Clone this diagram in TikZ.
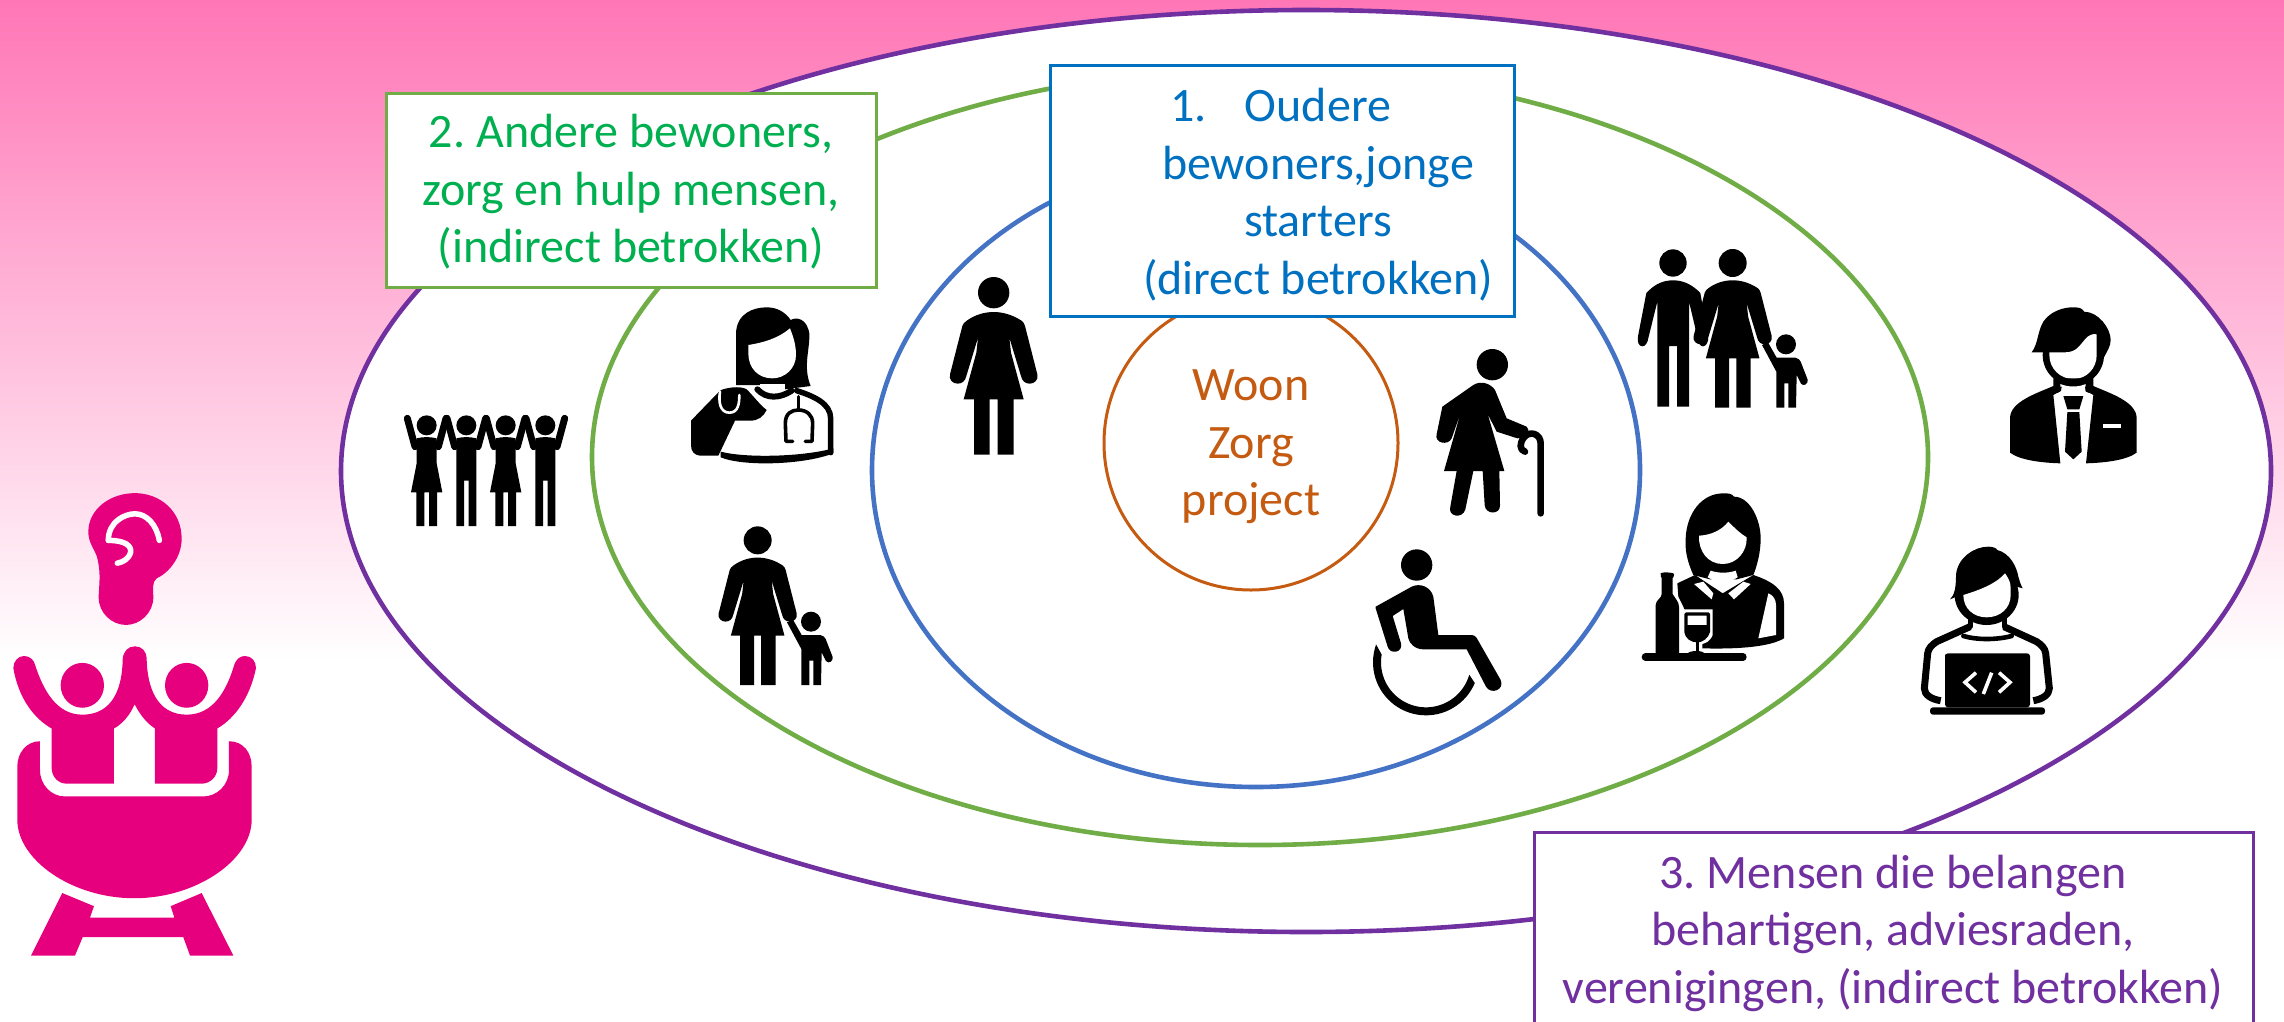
\documentclass[tikz,border=0pt]{standalone}
\usepackage{fontspec}
\setmainfont{Carlito}
\frenchspacing
\definecolor{bgpink}{HTML}{FF76B6}
\definecolor{logopink}{HTML}{E6007E}
\definecolor{cpurple}{HTML}{7030A0}
\definecolor{cgreen}{HTML}{70AD47}
\definecolor{cgreentxt}{HTML}{00B050}
\definecolor{cblue}{HTML}{4472C4}
\definecolor{cbluetxt}{HTML}{0070C0}
\definecolor{corange}{HTML}{C55A11}
\tikzset{
  ring/.style={draw=#1,line width=4.6pt,fill=white},
  labelbox/.style={draw=#1,line width=3pt,fill=white,inner sep=0pt,outer sep=0pt,anchor=north west},
  labeltext/.style={text=#1,align=center,inner sep=0pt,font=\fontsize{48}{57.5}\selectfont},
  zoomed/.style={x=0.33333pt,y=-0.33333pt},
  blk/.style={line width=#1,draw=black,line cap=round,line join=round},
  wht/.style={line width=#1,draw=white,line cap=round,line join=round},
}
% lady figure: head at local origin, units of a 3x zoom
\newcommand{\ladyfig}{%
  \fill (0,0) circle [radius=47];
  \fill (-82,85) .. controls (-55,65) and (-25,58) .. (0,58) .. controls (25,58) and (55,65) .. (85,85)
    .. controls (90,88) and (92,95) .. (94,100) -- (131,245) .. controls (135,262) and (122,273) .. (108,273)
    .. controls (95,273) and (85,265) .. (82,250) -- (47,135) -- (52,180) -- (90,320) -- (60,320) -- (60,486)
    -- (12,486) -- (12,320) -- (-12,320) -- (-12,486) -- (-59,486) -- (-59,320) -- (-90,320) -- (-52,180)
    -- (-47,135) -- (-82,250) .. controls (-85,265) and (-95,273) .. (-108,273)
    .. controls (-122,273) and (-135,262) .. (-131,245) -- (-94,100) .. controls (-92,95) and (-88,88) .. (-82,85) -- cycle;}
% child, relative to the mother's head
\newcommand{\childfig}{%
  \fill (160,244) circle [radius=30];
  \fill (132,284) -- (188,284) .. controls (198,286) and (200,290) .. (204,296) -- (225,350)
    .. controls (228,362) and (212,372) .. (205,362) -- (192,336) -- (190,434) -- (167,434) -- (167,361) -- (155,361)
    -- (155,434) -- (131,434) -- (131,326) -- (88,246) -- (106,238) -- cycle;}
\begin{document}
\begin{tikzpicture}[x=1pt,y=-1pt]
\useasboundingbox (0,0) rectangle (2284,1021);
\fill[white] (0,0) rectangle (2284,1021);
\shade[top color=bgpink,bottom color=white] (0,0) rectangle (2284,660);

% rings
\draw[ring=cpurple] (1306,471) ellipse [x radius=965,y radius=461];
\draw[ring=cgreen] (1260,457) ellipse [x radius=668,y radius=388];
\draw[ring=cblue] (1256,470) ellipse [x radius=384,y radius=317];
\draw[ring=corange,line width=3pt] (1251,443) circle [radius=147];

% labels
\node[labelbox=cgreen,minimum width=490pt,minimum height=194pt] (boxtwo) at (386,93) {};
\node[labeltext=cgreentxt] (texttwo) at (631,192) {2. Andere bewoners,\\zorg en hulp mensen,\\(indirect betrokken)};
\node[labelbox=cbluetxt,minimum width=464pt,minimum height=251pt] (boxone) at (1050,65) {};
\node[labeltext=cbluetxt] (textone) at (1318,194.5) {\llap{1.\hspace{38pt}}Oudere\\bewoners,jonge\\starters\\(direct betrokken)};
\node[labelbox=cpurple,minimum width=719pt,minimum height=240pt] (boxthree) at (1534,832) {};
\node[labeltext=cpurple] (textthree) at (1893,933) {3. Mensen die belangen\\behartigen, adviesraden,\\verenigingen, (indirect betrokken)};
\node[labeltext=corange] (textcore) at (1251,447) {Woon\\Zorg\\project};

% logo
\begin{scope}[shift={(0,480)},x=0.33333pt,y=-0.34507pt,fill=logopink]
  \fill (265,150) .. controls (265,85) and (330,38) .. (405,38) .. controls (480,38) and (545,90) .. (545,170)
    .. controls (545,225) and (505,270) .. (470,285) .. controls (455,295) and (460,320) .. (460,340)
    .. controls (460,385) and (420,420) .. (378,420) .. controls (335,420) and (296,385) .. (296,340)
    .. controls (296,310) and (305,270) .. (290,220) .. controls (280,195) and (265,180) .. (265,150) -- cycle;
  \draw[wht=5.5pt] (325,175) .. controls (325,120) and (375,98) .. (405,98) .. controls (440,98) and (470,130) .. (478,175);
  \draw[wht=5.5pt] (325,175) .. controls (375,175) and (395,190) .. (392,210) .. controls (388,225) and (372,238) .. (352,241);
  \fill (247,595) circle [radius=65];
  \fill (560,595) circle [radius=65];
  \fill (40,545) .. controls (40,525) and (55,510) .. (72,510) .. controls (90,510) and (102,522) .. (105,535)
    .. controls (130,610) and (170,680) .. (247,680) .. controls (340,680) and (367,600) .. (368,520)
    .. controls (370,495) and (385,482) .. (405,482) .. controls (425,482) and (440,495) .. (440,520)
    .. controls (442,600) and (470,680) .. (560,680) .. controls (640,680) and (680,610) .. (703,535)
    .. controls (708,520) and (720,510) .. (735,510) .. controls (755,510) and (768,525) .. (768,545)
    .. controls (750,630) and (705,690) .. (652,720) -- (652,835) .. controls (652,860) and (630,880) .. (605,880)
    -- (465,880) -- (465,720) .. controls (440,705) and (420,680) .. (404,650) .. controls (390,680) and (370,705) .. (342,720)
    -- (342,880) -- (200,880) .. controls (175,880) and (155,860) .. (155,835) -- (155,720)
    .. controls (100,690) and (55,630) .. (40,545) -- cycle;
  \fill (120,757) -- (120,840) .. controls (120,885) and (155,917) .. (195,917) -- (610,917)
    .. controls (650,917) and (687,885) .. (687,840) -- (687,757) .. controls (730,757) and (755,790) .. (755,830)
    -- (755,985) .. controls (755,1100) and (590,1212) .. (403,1212) .. controls (215,1212) and (52,1100) .. (52,985)
    -- (52,830) .. controls (52,790) and (80,757) .. (120,757) -- cycle;
  \fill (187,1197) -- (282,1235) -- (270,1268) -- (523,1268) -- (512,1235) -- (605,1197) -- (700,1378) -- (570,1378)
    -- (550,1325) -- (248,1325) -- (225,1378) -- (93,1378) -- cycle;
\end{scope}

% four people with raised arms
\begin{scope}[shift={(380,270)},zoomed]
  \foreach \cx/\kind in {140/0,259/1,377/0,496/1}{
    \begin{scope}[shift={(\cx,0)}]
      \fill (0,466) circle [radius=30];
      \draw[blk=7pt] (-58,445) -- (-35,530);
      \draw[blk=7pt] (58,445) -- (35,530);
      \ifnum\kind=0
        \fill (-30,505) .. controls (-10,500) and (10,500) .. (30,505) -- (30,580) -- (47,667) -- (31,667) -- (31,768)
          -- (7,768) -- (7,667) -- (-7,667) -- (-7,768) -- (-31,768) -- (-31,667) -- (-47,667) -- (-30,580) -- cycle;
      \else
        \fill (-30,505) .. controls (-10,500) and (10,500) .. (30,505) -- (30,768) -- (7,768) -- (7,632) -- (-7,632)
          -- (-7,768) -- (-30,768) -- cycle;
      \fi
    \end{scope}
  }
  % vet with dog
  \fill (1068,345) -- (1068,190) .. controls (1070,130) and (1120,112) .. (1160,112) .. controls (1190,112) and (1215,125) .. (1232,150)
    .. controls (1250,140) and (1280,145) .. (1288,190) .. controls (1290,240) and (1268,290) .. (1292,348) -- (1215,358) -- (1140,345) -- cycle;
  \fill[white] (1105,225) .. controls (1150,218) and (1195,205) .. (1230,175) .. controls (1240,200) and (1248,225) .. (1248,255)
    .. controls (1248,295) and (1215,325) .. (1177,325) .. controls (1135,325) and (1105,295) .. (1105,250) -- cycle;
  \fill[white] (1140,342) -- (1215,342) -- (1215,365) -- (1140,365) -- cycle;
  \draw[blk=6pt] (1132,358) .. controls (1160,388) and (1200,385) .. (1235,362);
  \draw[blk=5.5pt] (1250,362) .. controls (1300,378) and (1352,400) .. (1352,445) -- (1352,548);
  \fill (1022,545) .. controls (1100,565) and (1270,560) .. (1360,535) -- (1360,550) .. controls (1270,585) and (1090,590) .. (1022,562) -- cycle;
  \fill (933,452) -- (1020,362) .. controls (1030,355) and (1080,345) .. (1100,358) .. controls (1115,372) and (1140,405) .. (1160,420)
    .. controls (1150,440) and (1135,452) .. (1110,452) -- (1065,452) -- (1015,557) -- (960,557) .. controls (943,555) and (933,545) .. (933,525) -- cycle;
  \draw[wht=2.6pt] (1020,365) .. controls (1015,395) and (1020,428) .. (1048,428) .. controls (1075,428) and (1078,400) .. (1078,375);
  \draw[blk=3.6pt] (1255,380) -- (1255,420);
  \draw[blk=3.6pt] (1238,514) -- (1218,514) -- (1216,460) .. controls (1216,430) and (1235,420) .. (1255,420)
    .. controls (1280,420) and (1298,435) .. (1298,460) -- (1296,514) -- (1276,514);
  % mother and child
  \begin{scope}[shift={(1133,811)},x=0.2977pt,y=-0.2977pt]\ladyfig\end{scope}
  \begin{scope}[shift={(1133,811)}]\childfig\end{scope}
\end{scope}

% single woman
\begin{scope}[shift={(920,260)},zoomed]
  \begin{scope}[shift={(221,98)}]\ladyfig\end{scope}
\end{scope}

% family, old woman, wheelchair user, waitress
\begin{scope}[shift={(1340,230)},zoomed]
  \begin{scope}[shift={(999,99)}]
    \fill (0,0) circle [radius=41];
    \fill (-74,84) .. controls (-50,60) and (-25,52) .. (0,52) .. controls (25,52) and (50,60) .. (76,84)
      -- (82,90) -- (105,220) .. controls (108,238) and (98,250) .. (90,250) .. controls (80,250) and (76,238) .. (74,225)
      -- (48,116) -- (48,431) -- (12,431) -- (12,249) -- (-12,249) -- (-12,431) -- (-47,431) -- (-47,116)
      -- (-74,225) .. controls (-76,238) and (-82,250) .. (-92,250) .. controls (-102,250) and (-108,238) .. (-105,220) -- (-80,90) -- cycle;
  \end{scope}
  \begin{scope}[shift={(1178,99)},x=0.2977pt,y=-0.2977pt]\ladyfig\end{scope}
  \begin{scope}[shift={(1178,99)}]\childfig\end{scope}
  % old woman
  \fill (457,404) circle [radius=47];
  \fill (307,530) -- (400,465) .. controls (420,452) and (450,458) .. (465,480) -- (500,565) -- (560,590)
    .. controls (570,600) and (565,618) .. (550,622) -- (532,625) -- (470,605) -- (443,552) -- (493,723) -- (478,723) -- (480,825)
    .. controls (482,855) and (436,855) .. (434,825) -- (428,723) -- (400,723) -- (376,838)
    .. controls (368,868) and (322,860) .. (331,830) -- (350,723) -- (312,723) -- (362,548) -- (335,625)
    .. controls (325,648) and (282,640) .. (290,612) -- (307,530) -- cycle;
  \draw[blk=6.6pt] (602,850) -- (602,640) .. controls (602,612) and (570,600) .. (552,622) .. controls (538,640) and (538,660) .. (555,665);
  % wheelchair user
  \fill (230,1005) circle [radius=47];
  \fill (107,1130) -- (215,1070) .. controls (240,1058) and (272,1070) .. (280,1100) -- (295,1215) -- (395,1215)
    .. controls (408,1215) and (412,1228) .. (418,1238) -- (482,1350) .. controls (495,1380) and (452,1395) .. (438,1370) -- (380,1258) -- (250,1258)
    .. controls (225,1258) and (208,1240) .. (205,1225) -- (190,1137) -- (158,1158) -- (183,1240)
    .. controls (190,1268) and (150,1275) .. (143,1250) -- (107,1135) -- cycle;
  \fill plot[domain=23:199,samples=40,smooth] ({258+159*cos(\x)},{1297+159*sin(\x)}) -- (108,1243)
     -- plot[domain=190:16,samples=40,smooth] ({258+135*cos(\x)},{1297+135*sin(\x)}) -- cycle;
  % waitress
  \fill (1060,1035) .. controls (1040,990) and (1035,960) .. (1037,925) .. controls (1040,850) and (1085,790) .. (1150,790)
    .. controls (1165,790) and (1175,790) .. (1182,800) .. controls (1230,800) and (1262,870) .. (1262,925)
    .. controls (1262,970) and (1250,1010) .. (1240,1035) -- (1190,1048) -- (1110,1048) -- cycle;
  \fill[white] (1077,917) .. controls (1115,915) and (1145,900) .. (1165,875) .. controls (1185,895) and (1200,910) .. (1220,922)
    .. controls (1222,965) and (1190,1002) .. (1148,1002) .. controls (1105,1002) and (1075,965) .. (1077,917) -- cycle;
  \fill[white] (1112,1022) .. controls (1135,1030) and (1165,1030) .. (1187,1022) -- (1193,1042) -- (1148,1066) -- (1103,1042) -- cycle;
  \fill (1012,1060) -- (1065,1035) -- (1148,1090) -- (1240,1035) .. controls (1300,1055) and (1332,1080) .. (1332,1120)
    -- (1332,1225) .. controls (1290,1250) and (1200,1258) .. (1085,1255) -- (1060,1200) -- (1030,1130) -- (1015,1100) -- cycle;
  \fill[white] (1062,1062) -- (1090,1055) -- (1120,1090) -- (1115,1108) -- cycle;
  \fill[white] (1165,1090) -- (1210,1055) -- (1232,1062) -- (1182,1108) -- cycle;
  \fill[white] (1285,1090) .. controls (1300,1095) and (1308,1110) .. (1308,1125) -- (1308,1215) -- (1255,1225) -- cycle;
  \fill[white] (1023,1138) -- (1118,1138) -- (1118,1215) .. controls (1110,1235) and (1095,1240) .. (1087,1242) -- (1087,1260) -- (1045,1260) -- (1048,1240) .. controls (1035,1235) and (1025,1225) .. (1023,1205) -- cycle;
  \draw[blk=3.4pt] (1038,1152) -- (1105,1152) -- (1105,1205) .. controls (1100,1222) and (1085,1232) .. (1072,1232) .. controls (1055,1232) and (1040,1222) .. (1038,1205) -- cycle;
  \fill (1038,1185) -- (1105,1185) -- (1105,1205) .. controls (1100,1222) and (1085,1232) .. (1072,1232) .. controls (1055,1232) and (1040,1222) .. (1038,1205) -- cycle;
  \fill (1067,1228) rectangle (1077,1270);
  \fill (1040,1272) .. controls (1050,1260) and (1090,1260) .. (1095,1272) -- cycle;
  \fill (962,1030) .. controls (962,1026) and (1000,1026) .. (1002,1032) .. controls (1002,1040) and (1000,1044) .. (998,1044) -- (998,1092)
    .. controls (1005,1105) and (1017,1115) .. (1017,1130) -- (1017,1272) -- (947,1272) -- (947,1125)
    .. controls (947,1110) and (965,1105) .. (965,1092) -- (965,1044) .. controls (963,1044) and (962,1038) .. (962,1030) -- cycle;
  \draw[blk=7.3pt] (916,1281) -- (1209,1281);
\end{scope}

% businessman, coder
\begin{scope}[shift={(1880,280)},zoomed]
  \fill (580,225) circle [radius=92];
  \fill (455,217) .. controls (475,190) and (472,155) .. (490,125) .. controls (510,95) and (550,80) .. (585,82) .. controls (600,82) and (610,88) .. (612,95)
    .. controls (655,95) and (692,145) .. (692,180) .. controls (692,200) and (680,215) .. (672,232) -- (508,217) -- cycle;
  \fill[white] (508,217) -- (555,217) .. controls (590,217) and (600,195) .. (615,178) .. controls (625,165) and (640,160) .. (650,163) -- (650,225)
    .. controls (650,265) and (620,297) .. (580,297) .. controls (540,297) and (508,265) .. (508,225) -- cycle;
  \fill (520,295) -- (640,295) -- (640,330) -- (618,345) -- (540,345) -- (520,330) -- cycle;
  \fill[white] (541,312) .. controls (565,322) and (595,322) .. (617,312) -- (617,335) -- (641,345) -- (618,552) -- (540,552) -- (518,345) -- (541,335) -- cycle;
  \fill (390,415) .. controls (390,365) and (470,340) .. (520,318) -- (545,320) -- (543,332) -- (520,345) -- (541,550) .. controls (480,548) and (420,540) .. (390,518) -- cycle;
  \fill (770,415) .. controls (770,365) and (690,340) .. (640,318) -- (615,320) -- (617,332) -- (640,345) -- (618,550) .. controls (680,548) and (740,540) .. (770,518) -- cycle;
  \fill (550,348) -- (610,348) -- (598,388) -- (562,388) -- cycle;
  \fill (562,396) -- (598,396) -- (605,515) -- (580,538) -- (555,515) -- cycle;
  \fill[white] (668,432) rectangle (722,444);
  % coder
  \fill (320,945) ellipse [x radius=96,y radius=90];
  \fill (210,958) .. controls (222,945) and (228,930) .. (228,885) .. controls (232,835) and (280,800) .. (325,800) .. controls (340,800) and (350,805) .. (352,810)
    .. controls (390,820) and (410,860) .. (415,890) .. controls (418,900) and (422,915) .. (428,925) -- (410,920) -- (230,950) -- cycle;
  \fill[white] (250,945) .. controls (300,930) and (350,910) .. (375,880) .. controls (385,895) and (392,905) .. (392,925) -- (392,945)
    .. controls (392,985) and (360,1012) .. (320,1012) .. controls (280,1012) and (250,985) .. (250,945) -- cycle;
  \draw[blk=5pt] (270,1005) -- (270,1040);
  \draw[blk=5pt] (372,1005) -- (372,1040);
  \draw[blk=7pt,line cap=butt] (270,1040) -- (170,1085) .. controls (155,1095) and (145,1105) .. (143,1120) -- (133,1225) .. controls (133,1245) and (155,1258) .. (182,1262);
  \draw[blk=7pt,line cap=butt] (372,1040) -- (470,1085) .. controls (485,1095) and (495,1105) .. (497,1120) -- (508,1225) .. controls (508,1245) and (485,1258) .. (460,1262);
  \draw[blk=4.6pt] (250,1068) .. controls (290,1080) and (350,1080) .. (395,1068);
  \fill[rounded corners=3pt] (195,1130) -- (195,1120) -- (450,1120) -- (450,1282) -- (195,1282) -- cycle;
  \fill[rounded corners=3pt] (150,1282) -- (495,1282) -- (495,1304) -- (150,1304) -- cycle;
  \draw[wht=3.6pt,line cap=butt,line join=miter] (288,1178) -- (255,1207) -- (288,1237);
  \draw[wht=3.6pt,line cap=butt] (335,1178) -- (310,1242);
  \draw[wht=3.6pt,line cap=butt,line join=miter] (357,1178) -- (390,1207) -- (357,1237);
\end{scope}
\end{tikzpicture}
\end{document}
